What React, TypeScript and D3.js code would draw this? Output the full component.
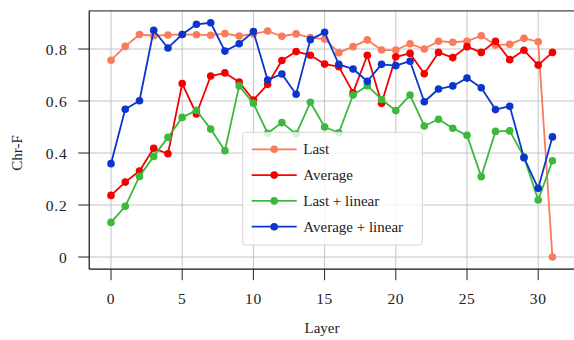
import React from "react";
import * as d3 from "d3";

const layers = d3.range(0, 32);
const lastVals = [0.757, 0.81, 0.856, 0.851, 0.854, 0.856, 0.855, 0.853, 0.859, 0.85, 0.858, 0.869, 0.849, 0.858, 0.844, 0.838, 0.786, 0.809, 0.835, 0.796, 0.796, 0.82, 0.8, 0.83, 0.826, 0.83, 0.851, 0.815, 0.818, 0.841, 0.828, 0.0];
const averageVals = [0.237, 0.288, 0.331, 0.418, 0.397, 0.667, 0.55, 0.696, 0.708, 0.673, 0.604, 0.664, 0.756, 0.79, 0.776, 0.742, 0.732, 0.632, 0.776, 0.591, 0.77, 0.783, 0.705, 0.787, 0.767, 0.809, 0.787, 0.83, 0.759, 0.795, 0.738, 0.787];
const lastLinearVals = [0.133, 0.195, 0.31, 0.387, 0.46, 0.537, 0.564, 0.492, 0.409, 0.658, 0.591, 0.476, 0.517, 0.473, 0.595, 0.5, 0.478, 0.623, 0.659, 0.606, 0.563, 0.623, 0.504, 0.53, 0.495, 0.468, 0.309, 0.483, 0.485, 0.385, 0.219, 0.37];
const averageLinearVals = [0.359, 0.568, 0.601, 0.872, 0.804, 0.856, 0.895, 0.901, 0.792, 0.82, 0.867, 0.681, 0.704, 0.626, 0.836, 0.864, 0.741, 0.723, 0.676, 0.741, 0.736, 0.753, 0.597, 0.646, 0.658, 0.688, 0.651, 0.567, 0.58, 0.382, 0.264, 0.462];

const xTicks = [0, 5, 10, 15, 20, 25, 30];
const yTicks = [0, 0.2, 0.4, 0.6, 0.8];
const yTickLabels = ["0", "0.2", "0.4", "0.6", "0.8"];

const seriesNames = ["Last", "Average", "Last + linear", "Average + linear"];
const seriesColors = ["#fa7b5c", "#f50000", "#3cb83c", "#0a36cc"];
const seriesData = [lastVals, averageVals, lastLinearVals, averageLinearVals];

const W = 574;
const H = 340;
const FONT = "'Liberation Serif', 'Times New Roman', serif";

export default function App() {
  const x = d3.scaleLinear().domain([0, 30]).range([111, 538.2]);
  const y = d3.scaleLinear().domain([0, 0.8]).range([257, 49]);
  const left = x(-1.53);
  const right = x(32.6);
  const top = y(0.947);
  const bottom = y(-0.047);

  const line = d3
    .line<number>()
    .x((_, i) => x(layers[i]))
    .y((d) => y(d));

  const legX = 242.7;
  const legY = 132.3;
  const legW = 179.6;
  const legH = 112.7;
  const rowY = (i: number) => 149.3 + i * 25.8;

  return (
    <div style={{ position: "fixed", left: 0, top: 0 }}>
      <svg width={W} height={H} style={{ display: "block", background: "#fff" }}>
        <rect x={0} y={0} width={W} height={H} fill="#fff" />
        {xTicks.map((t) => (
          <line key={"gx" + t} x1={x(t)} x2={x(t)} y1={top} y2={bottom} stroke="#c4c4c4" strokeWidth={1} />
        ))}
        {yTicks.map((t) => (
          <line key={"gy" + t} x1={left} x2={right} y1={y(t)} y2={y(t)} stroke="#c4c4c4" strokeWidth={1} />
        ))}
        {seriesData.map((vals, si) => (
          <g key={"s" + si}>
            <path d={line(vals) || ""} fill="none" stroke={seriesColors[si]} strokeWidth={1.8} strokeLinejoin="round" />
            {vals.map((v, i) => (
              <circle key={i} cx={x(layers[i])} cy={y(v)} r={3.8} fill={seriesColors[si]} />
            ))}
          </g>
        ))}
        <line x1={left} x2={right} y1={top} y2={top} stroke="#444" strokeWidth={1.2} />
        <line x1={left} x2={left} y1={top} y2={bottom} stroke="#111" strokeWidth={1.2} />
        <line x1={left} x2={right} y1={bottom} y2={bottom} stroke="#111" strokeWidth={1.2} />
        {xTicks.map((t) => (
          <g key={"tx" + t}>
            <line x1={x(t)} x2={x(t)} y1={bottom} y2={bottom + 11} stroke="#222" strokeWidth={1} />
            <text x={x(t)} y={298} textAnchor="middle" dominantBaseline="central" fontFamily={FONT} fontSize={15.5} letterSpacing={0.6} fill="#222">
              {t}
            </text>
          </g>
        ))}
        {yTicks.map((t, i) => (
          <g key={"ty" + t}>
            <line x1={left - 11} x2={left} y1={y(t)} y2={y(t)} stroke="#222" strokeWidth={1} />
            <text x={67.5} y={y(t)} textAnchor="end" dominantBaseline="central" fontFamily={FONT} fontSize={15.5} letterSpacing={0.8} fill="#222">
              {yTickLabels[i]}
            </text>
          </g>
        ))}
        <text x={322} y={328} textAnchor="middle" dominantBaseline="central" fontFamily={FONT} fontSize={15} fill="#222">
          Layer
        </text>
        <text
          x={17}
          y={153}
          textAnchor="middle"
          dominantBaseline="central"
          fontFamily={FONT}
          fontSize={15}
          fill="#222"
          transform={`rotate(-90, 17, 153)`}
        >
          Chr-F
        </text>
        <rect x={legX} y={legY} width={legW} height={legH} rx={3} fill="#fff" fillOpacity={0.8} stroke="#d6d6d6" strokeWidth={1} />
        {seriesNames.map((n, i) => (
          <g key={"l" + i}>
            <line x1={251.7} x2={296.7} y1={rowY(i)} y2={rowY(i)} stroke={seriesColors[i]} strokeWidth={1.8} />
            <circle cx={274.2} cy={rowY(i)} r={3.8} fill={seriesColors[i]} />
            <text x={303.3} y={rowY(i)} dominantBaseline="central" fontFamily={FONT} fontSize={15} fill="#222">
              {n}
            </text>
          </g>
        ))}
      </svg>
    </div>
  );
}
